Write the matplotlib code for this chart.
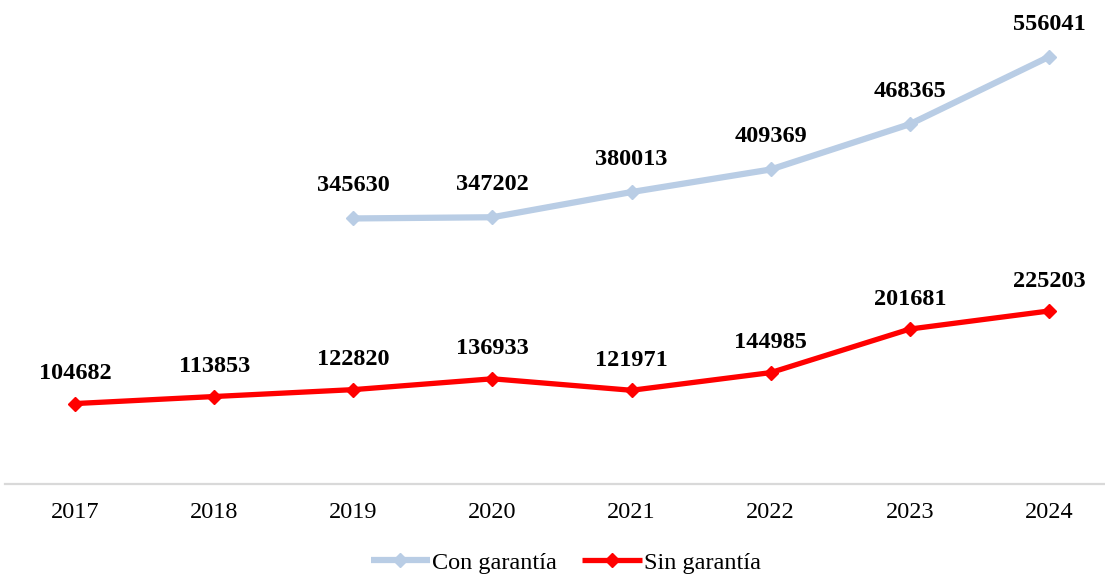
import numpy as np
import matplotlib.pyplot as plt

plt.rcParams['font.family'] = ['Liberation Serif', 'DejaVu Serif']

years = ['2017', '2018', '2019', '2020', '2021', '2022', '2023', '2024']
# 'Con garantía' only starts in 2019
con_years = ['2019', '2020', '2021', '2022', '2023', '2024']
con_garantia = [345630, 347202, 380013, 409369, 468365, 556041]
sin_garantia = [104682, 113853, 122820, 136933, 121971, 144985, 201681, 225203]

blue = '#B9CDE5'
red = '#FF0000'

fig = plt.figure(figsize=(11.05, 5.74), dpi=100)
ax = fig.add_axes([0.00489, 0.1568, 1.00742, 0.8031])

x_all = np.arange(len(years))
x_con = np.array([years.index(y) for y in con_years])

ax.plot(x_con, con_garantia, color=blue, lw=4.5, marker='D', ms=7,
        solid_capstyle='butt', label='Con garantía')
ax.plot(x_all, sin_garantia, color=red, lw=3.8, marker='D', ms=7,
        solid_capstyle='butt', label='Sin garantía')

for xi, v in zip(x_con, con_garantia):
    ax.annotate(str(v), (xi, v), xytext=(0, 16), textcoords='offset points',
                ha='center', va='bottom', fontsize=17.5, fontweight='bold')
for xi, v in zip(x_all, sin_garantia):
    ax.annotate(str(v), (xi, v), xytext=(0, 14), textcoords='offset points',
                ha='center', va='bottom', fontsize=17.5, fontweight='bold')

ax.set_xlim(-0.5, 7.5)
ax.set_ylim(0, 600000)
ax.set_xticks(x_all)
ax.set_xticklabels(years, fontsize=17.5)
ax.tick_params(axis='x', length=0, pad=13)
ax.set_yticks([])
for s in ['top', 'right', 'left']:
    ax.spines[s].set_visible(False)
ax.spines['bottom'].set_color('#D9D9D9')
ax.spines['bottom'].set_linewidth(1.6)

fig.legend(loc='center', bbox_to_anchor=(0.512, 0.02), ncol=2, frameon=False,
           fontsize=17.5, handlelength=2.45, handletextpad=0.08, columnspacing=1.05)

fig.savefig('out.png', dpi=100)
